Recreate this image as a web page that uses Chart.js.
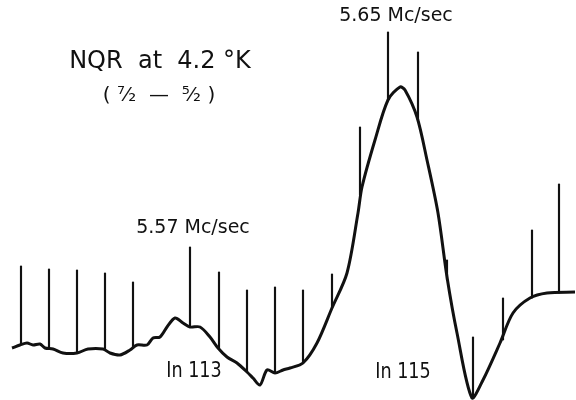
<!DOCTYPE html>
<html>
<head>
<meta charset="utf-8">
<script src="https://cdn.jsdelivr.net/npm/chart.js@4/dist/chart.umd.min.js"></script>
<style>
  html, body { margin: 0; padding: 0; background: #fff; }
  #wrap { width: 576px; height: 400px; }
</style>
</head>
<body>
<div id="wrap"><canvas id="nqrChart" width="576" height="400"></canvas></div>
<script>
// recorder trace (sweep position, signal amplitude in chart units)
var traceX = [12, 20, 27, 33, 40, 45, 53, 63, 77, 88, 103, 110, 120, 130, 137, 147, 153, 160, 167, 175,
              183, 190, 200, 210, 218, 227, 237, 247, 253, 260, 267, 275, 283, 290, 303, 317, 332, 347,
              358, 362, 375, 388, 400, 405, 417, 427, 438, 447, 457, 472, 483, 500, 513, 530, 547, 575];
var traceY = [52, 55, 57, 55, 56, 52, 51, 47, 47, 51, 51, 47, 45, 50, 55, 55, 62, 63, 73, 82,
              77, 73, 73, 63, 52, 43, 37, 28, 22, 15, 30, 27, 30, 32, 37, 57, 92, 127,
              187, 213, 260, 300, 313, 310, 283, 240, 187, 123, 67, 2, 20, 57, 87, 102, 107, 108];

// frequency marker pips: position, foot (on trace), top
var markerX   = [21, 49, 77, 105, 133, 190, 219, 247, 275, 303, 332, 360, 388, 418, 447, 473, 503, 532, 559];
var markerLow = [55, 51, 47, 51, 53, 73, 52, 28, 28, 37, 92, 205, 300, 280, 120, 2, 60, 102, 107];
var markerTop = [134, 131, 130, 127, 118, 153, 128, 110, 113, 110, 126, 273, 368, 348, 140, 63, 102, 170, 216];

// text labels: text, x, y (chart units), font size
var labelText = ['NQR  at  4.2 °K', '( ⁷⁄₂  —  ⁵⁄₂ )', '5.57 Mc/sec', '5.65 Mc/sec', 'In 113', 'In 115'];
var labelX    = [160, 159, 193, 396, 194, 403];
var labelY    = [338, 304, 172, 384, 29, 28];
var labelSize = [24, 20, 20, 20, 22, 22];
var labelSquash = [1, 1, 0.95, 0.95, 0.8, 0.8];

var tracePts = [];
for (var i = 0; i < traceX.length; i++) {
  tracePts.push({x: traceX[i], y: traceY[i]});
}
var markerPts = [];
for (var j = 0; j < markerX.length; j++) {
  markerPts.push({x: markerX[j], y: [markerLow[j], markerTop[j]]});
}

var textPlugin = {
  id: 'figText',
  afterDatasetsDraw: function(chart) {
    var ctx = chart.ctx;
    var xs = chart.scales.x, ys = chart.scales.y;
    for (var k = 0; k < labelText.length; k++) {
      ctx.save();
      ctx.fillStyle = '#111';
      ctx.textAlign = 'center';
      ctx.textBaseline = 'middle';
      ctx.font = labelSize[k] + 'px "DejaVu Sans"';
      ctx.translate(xs.getPixelForValue(labelX[k]), ys.getPixelForValue(labelY[k]));
      ctx.scale(labelSquash[k], 1);
      ctx.fillText(labelText[k], 0, 0);
      ctx.restore();
    }
  }
};

var ctx = document.getElementById('nqrChart');
var chart = new Chart(ctx, {
  data: {
    datasets: [{
      type: 'line',
      data: tracePts,
      borderColor: '#111',
      borderWidth: 3,
      pointRadius: 0,
      tension: 0.3,
      clip: false
    }, {
      type: 'bar',
      data: markerPts,
      backgroundColor: '#111',
      barThickness: 1.5,
      borderWidth: 0
    }]
  },
  options: {
    responsive: false,
    animation: false,
    layout: { padding: 0 },
    plugins: { legend: { display: false }, tooltip: { enabled: false } },
    scales: {
      x: { type: 'linear', display: false, min: 0, max: 576, offset: false },
      y: { display: false, min: 0, max: 400 }
    }
  },
  plugins: [textPlugin]
});
</script>
</body>
</html>
